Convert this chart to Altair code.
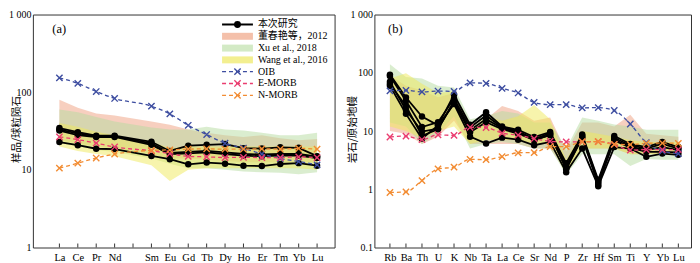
import altair as alt
import pandas as pd

# ---------------- data ----------------
REE_SLOTS = ["La", "Ce", "Pr", "Nd", "Pm", "Sm", "Eu", "Gd", "Tb", "Dy", "Ho", "Er", "Tm", "Yb", "Lu"]
REE = ["La", "Ce", "Pr", "Nd", "Sm", "Eu", "Gd", "Tb", "Dy", "Ho", "Er", "Tm", "Yb", "Lu"]
TRACE = ["Rb", "Ba", "Th", "U", "K", "Nb", "Ta", "La", "Ce", "Sr", "Nd", "P", "Zr", "Hf", "Sm", "Ti", "Y", "Yb", "Lu"]

# (a) chondrite-normalised REE, this study
ree_s1 = [34.5, 30.5, 27.5, 27.5, 23.0, 17.5, 20.5, 21.0, 21.5, 19.0, 18.8, 19.5, 19.2, 15.0]
ree_s2 = [33.0, 29.5, 27.0, 27.0, 22.0, 16.5, 17.0, 17.5, 16.8, 16.0, 15.8, 16.0, 16.0, 14.8]
ree_s3 = [32.0, 28.0, 26.5, 26.5, 21.0, 16.0, 16.3, 16.8, 16.0, 15.2, 15.0, 15.3, 15.3, 14.2]
ree_s4 = [22.8, 20.8, 18.7, 18.5, 15.1, 13.7, 11.8, 12.4, 12.0, 11.3, 11.2, 11.9, 12.2, 11.3]
# (a) reference patterns
ree_oib = [153, 130, 102, 83, 66, 52.5, 37.5, 28.5, 22.0, 19.0, 16.0, 14.0, 12.8, 11.6]
ree_emorb = [26.6, 24.5, 22.1, 19.7, 17.6, 16.2, 14.9, 14.7, 14.4, 14.5, 14.4, 14.4, 14.7, 14.4]
ree_nmorb = [10.5, 12.2, 14.2, 16.0, 17.8, 18.1, 18.5, 18.6, 18.5, 18.5, 18.6, 18.5, 18.9, 18.5]
# (a) literature ranges
ree_dong_hi = [80, 63, 53, 50, 42, 38, 33, 30, 28, 26.5, 28, 25.5, 24, 25]
ree_dong_lo = [24, 22, 20, 19, 16, 14, 14, 13.5, 13, 12.5, 12.5, 12.5, 12.5, 12.5]
ree_xu_hi = [60, 55, 48, 42, 35, 33, 33, 36, 33, 32, 30, 28, 28, 30]
ree_xu_lo = [22, 20, 18, 17, 14, 12, 10.5, 10.5, 10, 9.5, 9.3, 9.2, 8.8, 9.3]
ree_wang_hi = [40, 36, 31, 28, 23, 19, 20, 20, 20, 20, 20, 20, 20, 20]
ree_wang_lo = [20, 17.5, 16, 15, 11.5, 7.2, 10, 10.5, 10.5, 10.5, 10.5, 10.5, 10.5, 10]

# (b) primitive-mantle-normalised trace elements, this study
tr_s1 = [93, 37.7, 17.7, 12.5, 42, 12.8, 21, 12.0, 10.5, 7.9, 9.6, 2.8, 8.7, 1.46, 8.2, 6.0, 5.3, 6.5, 5.3]
tr_s2 = [88, 33, 11.7, 14.2, 36, 11.5, 18.5, 11.5, 10.0, 7.3, 9.2, 2.5, 8.3, 1.35, 7.6, 5.7, 5.0, 6.0, 5.0]
tr_s3 = [64, 27, 8.3, 10.7, 33, 10.3, 16, 11.2, 9.5, 6.9, 8.7, 2.2, 7.6, 1.2, 7.1, 5.4, 4.7, 5.3, 4.7]
tr_s4 = [60, 19.7, 7.4, 12.5, 29, 8.0, 6.1, 7.7, 7.1, 5.7, 6.5, 1.96, 5.0, 1.13, 5.3, 5.0, 3.6, 4.1, 3.9]
tr_s5 = [70, 23, 9.8, 11.0, 31, 9.5, 14.2, 10.8, 9.0, 7.1, 8.5, 2.3, 7.9, 1.3, 6.9, 5.2, 4.4, 4.4, 4.3]
# (b) reference patterns
tr_oib = [49, 50, 47, 48.6, 48, 67, 66, 54, 45, 31, 28.4, 28.4, 25, 25.2, 22.5, 13.2, 6.3, 4.5, 4.1]
tr_emorb = [7.9, 8.2, 7.1, 8.6, 8.4, 11.6, 11.5, 9.2, 8.5, 7.4, 6.7, 6.5, 6.5, 6.6, 5.9, 4.7, 4.8, 4.8, 4.8]
tr_nmorb = [0.88, 0.9, 1.41, 2.24, 2.4, 3.27, 3.22, 3.64, 4.23, 4.27, 5.4, 5.4, 6.6, 6.6, 5.9, 5.85, 6.15, 6.2, 6.15]
# (b) literature ranges
tr_dong_hi = [90, 60, 50, 38, 45, 14, 16, 27, 22, 15, 17, 4.5, 14, 14, 12, 19, 9, 8.5, 8]
tr_dong_lo = [10, 9, 6, 8, 15, 6, 6, 6, 6, 5, 5, 2.0, 5, 5, 5, 4, 4, 4, 4]
tr_xu_hi = [140, 85, 80, 60, 56, 16, 18, 22, 20, 14, 14, 5, 17, 15, 13, 12, 10.5, 10.5, 10.5]
tr_xu_lo = [14, 12, 6, 9, 18, 5, 6, 6.5, 6, 5, 5, 1.8, 4, 4, 4, 2.5, 3.3, 3.2, 3.2]
tr_wang_hi = [80, 98, 65, 45, 48, 10, 18, 15, 18, 28, 16, 3.2, 10, 9, 8, 7, 6.5, 6.5, 6.5]
tr_wang_lo = [12, 10, 7.5, 10, 12, 6, 7, 7, 7, 6, 6, 1.8, 5, 5, 5, 4, 4, 4, 4]

LEGEND_LABELS = ["本次研究", "董春艳等，2012", "Xu et al., 2018", "Wang et al., 2016", "OIB", "E-MORB", "N-MORB"]
REF_NAMES = ["OIB", "E-MORB", "N-MORB"]
REF_COLORS = ["#3d4da0", "#ea3d70", "#f28c33"]
BAND_COLORS = ["#ef9f7f", "#b5dc9f", "#f0ea5a"]
LEGEND_PATCH = ["#f4c0aa", "#d3eac5", "#f3ef90"]

SERIF = "Liberation Serif, Noto Sans CJK SC"
CJK = "Noto Sans CJK SC"

WA, WB, H = 303, 318, 234


def lines_df(elements, slots, series):
    rows = []
    for name, vals in series.items():
        for el, v in zip(elements, vals):
            rows.append({"x": slots.index(el), "v": v, "series": name, "el": el})
    return pd.DataFrame(rows)


def band_df(elements, slots, hi, lo):
    return pd.DataFrame({"x": [slots.index(e) for e in elements], "hi": hi, "lo": lo})


def panel(elements, slots, samples, refs, bands, domain_x, ydom, yvals, ytitle, width, tag, legend):
    names_expr = "[" + ",".join("'%s'" % s for s in slots) + "][datum.value]"
    xaxis = alt.Axis(values=[slots.index(e) for e in elements], labelExpr=names_expr,
                     ticks=False, domain=False, grid=False, labelPadding=5,
                     labelFont="Liberation Serif", labelFontSize=10.5, labelColor="black",
                     labelOverlap=False, labelFlush=False, title=None)
    yaxis = alt.Axis(values=yvals,
                     labelExpr="datum.value >= 1000 ? '1 000' : toString(datum.value)",
                     ticks=False, domain=False, grid=False, labelPadding=2,
                     labelFont="Liberation Serif", labelFontSize=10, labelColor="black",
                     labelOverlap=False, labelFlush=False,
                     title=ytitle, titleFont=CJK, titleFontSize=10.5, titleFontWeight="normal",
                     titleColor="black", titleAngle=270, titleBaseline="middle", titleAlign="center",
                     titleX=-16 if tag == "(a)" else -22, titleY=H / 2 - 2)
    X = alt.X("x:Q", scale=alt.Scale(domain=domain_x, nice=False, zero=False), axis=xaxis)
    Y = alt.Y("v:Q", scale=alt.Scale(type="log", domain=ydom, nice=False), axis=yaxis)

    layers = []
    for (hi, lo), col in zip(bands, BAND_COLORS):
        layers.append(
            alt.Chart(band_df(elements, slots, hi, lo)).mark_area(color=col, opacity=0.5).encode(
                x=X, y=alt.Y("hi:Q", scale=alt.Scale(type="log", domain=ydom, nice=False), axis=yaxis),
                y2="lo:Q")
        )
    sdf = lines_df(elements, slots, samples)
    layers.append(alt.Chart(sdf).mark_line(color="black", strokeWidth=1.8).encode(x=X, y=Y, detail="series:N"))
    layers.append(alt.Chart(sdf).mark_circle(color="black", size=42, opacity=1).encode(x=X, y=Y))
    rdf = lines_df(elements, slots, refs)
    cscale = alt.Color("series:N", scale=alt.Scale(domain=REF_NAMES, range=REF_COLORS), legend=None)
    layers.append(alt.Chart(rdf).mark_line(strokeDash=[4, 3], strokeWidth=1.3, interpolate="monotone").encode(
        x=X, y=Y, color=cscale))
    layers.append(alt.Chart(rdf).mark_point(shape="M-1,-1L1,1M-1,1L1,-1", filled=False, size=40,
                                            strokeWidth=1.4, opacity=1).encode(x=X, y=Y, color=cscale))
    # inward tick marks along the bottom frame
    tdf = pd.DataFrame({"x": list(range(len(slots)))})
    layers.append(alt.Chart(tdf).mark_rule(color="#333", strokeWidth=1).encode(
        x=X, y=alt.value(H), y2=alt.value(H - 4)))

    one = pd.DataFrame({"k": [0]})
    layers.append(alt.Chart(one).mark_text(text=tag, font="Liberation Serif", fontSize=12.5, color="black",
                                           align="center", baseline="middle").encode(
        x=alt.value(26.5 if tag == "(a)" else 21), y=alt.value(15)))

    if legend:
        x0, x1, tx, y0, dy = 190, 221, 226, 10, 11.85
        xc = (x0 + x1) / 2
        for i, lab in enumerate(LEGEND_LABELS):
            yy = y0 + i * dy
            if i == 0:
                layers.append(alt.Chart(one).mark_rule(color="black", strokeWidth=2).encode(
                    x=alt.value(x0), x2=alt.value(x1), y=alt.value(yy)))
                layers.append(alt.Chart(one).mark_circle(color="black", size=48, opacity=1).encode(
                    x=alt.value(xc), y=alt.value(yy)))
            elif i <= 3:
                layers.append(alt.Chart(one).mark_rect(color=LEGEND_PATCH[i - 1], opacity=1).encode(
                    x=alt.value(x0), x2=alt.value(x1), y=alt.value(yy - 3.5), y2=alt.value(yy + 3.5)))
            else:
                c = REF_COLORS[i - 4]
                layers.append(alt.Chart(one).mark_rule(color=c, strokeWidth=1.3, strokeDash=[4, 3]).encode(
                    x=alt.value(x0), x2=alt.value(x1), y=alt.value(yy)))
                layers.append(alt.Chart(one).mark_point(shape="M-1,-1L1,1M-1,1L1,-1", filled=False,
                                                        size=40, strokeWidth=1.4, color=c, opacity=1).encode(
                    x=alt.value(xc), y=alt.value(yy)))
            layers.append(alt.Chart(one).mark_text(text=lab, font=SERIF, fontSize=10, color="black",
                                                   align="left", baseline="middle").encode(
                x=alt.value(tx), y=alt.value(yy)))

    return alt.layer(*layers).properties(width=width, height=H)


pa = panel(REE, REE_SLOTS,
           {"s1": ree_s1, "s2": ree_s2, "s3": ree_s3, "s4": ree_s4},
           {"OIB": ree_oib, "E-MORB": ree_emorb, "N-MORB": ree_nmorb},
           [(ree_dong_hi, ree_dong_lo), (ree_xu_hi, ree_xu_lo), (ree_wang_hi, ree_wang_lo)],
           [-1.44, 14.95], [1, 1000], [1, 10, 100, 1000], "样品/球粒陨石", WA, "(a)", True)

pb = panel(TRACE, TRACE,
           {"s1": tr_s1, "s2": tr_s2, "s3": tr_s3, "s4": tr_s4, "s5": tr_s5},
           {"OIB": tr_oib, "E-MORB": tr_emorb, "N-MORB": tr_nmorb},
           [(tr_dong_hi, tr_dong_lo), (tr_xu_hi, tr_xu_lo), (tr_wang_hi, tr_wang_lo)],
           [-0.97, 18.79], [0.1, 1000], [0.1, 1, 10, 100, 1000], "岩石/原始地幔", WB, "(b)", False)

chart = alt.hconcat(pa, pb, spacing=11).resolve_scale(x="independent", y="independent").properties(
    padding=0, background="white"
).configure_view(stroke="#333", strokeWidth=1)

chart.save("out.html", embed_options={"renderer": "svg", "actions": False})
